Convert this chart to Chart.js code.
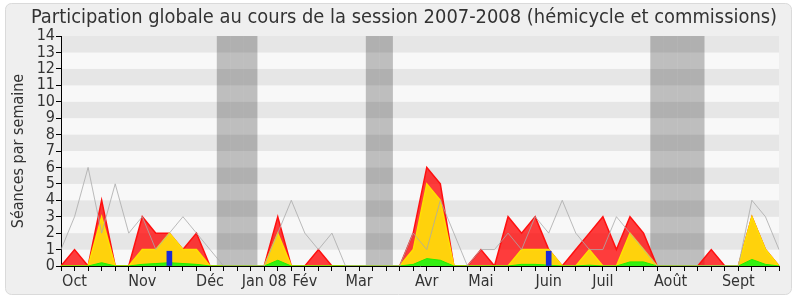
<!DOCTYPE html>
<html>
<head>
<meta charset="utf-8">
<title>Participation globale 2007-2008</title>
<script src="https://cdn.jsdelivr.net/npm/chart.js"></script>
<style>
  body { margin: 0; background: #ffffff; }
  canvas { display: block; }
</style>
</head>
<body>
<canvas id="participationChart" width="800" height="300"></canvas>
<script>
    // one entry per week, Oct 2007 -> Sept 2008
    const weeks = ['', 'Oct', '', '', '', '', 'Nov', '', '', '', '', 'Déc', '', '', '', 'Jan 08', '', '', 'Fév', '', '', '', 'Mar', '', '', '', '', 'Avr', '', '', '', 'Mai', '', '', '', '', 'Juin', '', '', '', 'Juil', '', '', '', '', 'Août', '', '', '', '', 'Sept', '', '', ''];

    // presences (red), participations (yellow), interventions (green)
    const presences = [0, 1, 0, 4, 0, 0, 3, 2, 2, 1, 2, 0, 0, 0, 0, 0, 3, 0, 0, 1, 0, 0, 0, 0, 0, 0, 2, 6, 5, 0, 0, 1, 0, 3, 2, 3, 1, 0, 1, 2, 3, 1, 3, 2, 0, 0, 0, 0, 1, 0, 0, 3, 1, 0];
    const participations = [0, 0, 0, 3, 0, 0, 1, 1, 2, 1, 1, 0, 0, 0, 0, 0, 2, 0, 0, 0, 0, 0, 0, 0, 0, 0, 1, 5, 4, 0, 0, 0, 0, 0, 1, 1, 1, 0, 0, 1, 0, 0, 2, 1, 0, 0, 0, 0, 0, 0, 0, 3, 1, 0];
    const interventions = [0, 0, 0, 0.2, 0, 0, 0.1, 0.15, 0.2, 0.15, 0.1, 0, 0, 0, 0, 0, 0.35, 0, 0, 0, 0, 0, 0, 0, 0, 0, 0.1, 0.45, 0.35, 0, 0, 0, 0, 0, 0.1, 0.1, 0.05, 0, 0, 0.05, 0, 0, 0.25, 0.25, 0, 0, 0, 0, 0, 0, 0, 0.4, 0.1, 0];
    // questions orales (blue bars)
    const questions = [null, null, null, null, null, null, null, null, 0.9, null, null, null, null, null, null, null, null, null, null, null, null, null, null, null, null, null, null, null, null, null, null, null, null, null, null, null, 0.9, null, null, null, null, null, null, null, null, null, null, null, null, null, null, null, null, null];
    // grey line: median of all deputies
    const mediane = [1, 3, 6, 2, 5, 2, 3, 1, 2, 3, 2, 1, 0, 0, 0, 0, 2, 4, 2, 1, 2, 0, 0, 0, 0, 0, 2, 1, 4, 2, 0, 1, 1, 2, 1, 3, 2, 4, 2, 1, 1, 3, 2, 1, 0, 0, 0, 0, 0, 0, 0, 4, 3, 1];
    // parliament holidays (grey columns)
    const vacances = [null, null, null, null, null, null, null, null, null, null, null, null, 14, 14, 14, null, null, null, null, null, null, null, null, 14, 14, null, null, null, null, null, null, null, null, null, null, null, null, null, null, null, null, null, null, null, 14, 14, 14, 14, null, null, null, null, null, null];

    const yTicks = [0, 1, 2, 3, 4, 5, 6, 7, 8, 9, 10, 11, 12, 13, 14];
    const chartTitle = 'Participation globale au cours de la session 2007-2008 (hémicycle et commissions)';

    const fontName = "'DejaVu Sans Condensed', 'DejaVu Sans', sans-serif";

    // panel + striped plot background, and the title on top
    const backgroundPlugin = {
        id: 'background',
        beforeDraw(chart) {
            const ctx = chart.ctx;
            ctx.save();
            ctx.fillStyle = '#ffffff';
            ctx.fillRect(0, 0, chart.width, chart.height);
            ctx.beginPath();
            ctx.roundRect(5.5, 3.5, 786, 291, 6);
            ctx.fillStyle = '#efefef';
            ctx.fill();
            ctx.strokeStyle = '#dadada';
            ctx.lineWidth = 1;
            ctx.stroke();

            const area = chart.chartArea;
            const y = chart.scales.y;
            for (let v = 0; v < yTicks.length - 1; v++) {
                const top = y.getPixelForValue(yTicks[v + 1]);
                const bottom = y.getPixelForValue(yTicks[v]);
                ctx.fillStyle = v % 2 ? '#e6e6e6' : '#f8f8f8';
                ctx.fillRect(area.left, top, area.right - area.left, bottom - top);
            }
            ctx.restore();
        },
        afterDraw(chart) {
            const ctx = chart.ctx;
            ctx.save();
            ctx.font = '19.9px ' + fontName;
            ctx.fillStyle = '#333333';
            ctx.textAlign = 'center';
            ctx.textBaseline = 'middle';
            ctx.fillText(chartTitle, 404, 18);
            ctx.restore();
        }
    };

    const canvas = document.getElementById('participationChart');

    let participationChart = new Chart(canvas, {
        type: 'line',
        data: {
            labels: weeks,
            datasets: [
                {
                    type: 'bar',
                    data: vacances,
                    backgroundColor: 'rgba(0, 0, 0, 0.23)',
                    borderWidth: 0,
                    inflateAmount: 0,
                    barPercentage: 1,
                    categoryPercentage: 1,
                    grouped: false,
                    order: 10
                },
                {
                    data: presences,
                    borderColor: '#ff1010',
                    backgroundColor: 'rgba(255, 0, 0, 0.76)',
                    borderWidth: 1.5,
                    fill: 'origin',
                    pointRadius: 0,
                    order: 5
                },
                {
                    data: participations,
                    borderColor: '#ffe000',
                    backgroundColor: '#ffd20c',
                    borderWidth: 1.5,
                    fill: 'origin',
                    pointRadius: 0,
                    order: 4
                },
                {
                    data: interventions,
                    borderColor: '#22ee00',
                    backgroundColor: '#33f012',
                    borderWidth: 1,
                    fill: 'origin',
                    pointRadius: 0,
                    order: 3
                },
                {
                    type: 'bar',
                    data: questions,
                    backgroundColor: '#1a2ad8',
                    borderWidth: 0,
                    barThickness: 5,
                    grouped: false,
                    order: 2
                },
                {
                    data: mediane,
                    borderColor: 'rgba(170, 170, 170, 0.8)',
                    borderWidth: 1,
                    fill: false,
                    pointRadius: 0,
                    order: 1
                }
            ]
        },
        options: {
            responsive: false,
            devicePixelRatio: 1,
            animation: false,
            layout: {
                padding: { left: 5, right: 21, top: 36, bottom: 0 }
            },
            plugins: {
                legend: { display: false },
                tooltip: { enabled: false },
                title: { display: false }
            },
            scales: {
                x: {
                    offset: false,
                    grid: {
                        offset: false,
                        drawOnChartArea: false,
                        drawTicks: true,
                        tickLength: 5,
                        color: '#000000'
                    },
                    border: { display: true, color: '#000000' },
                    ticks: {
                        autoSkip: false,
                        maxRotation: 0,
                        padding: 1,
                        color: '#333333',
                        font: { family: fontName, size: 16 }
                    },
                    afterFit: function(scale) { scale.height = 34; }
                },
                y: {
                    min: 0,
                    max: 14,
                    grid: {
                        drawOnChartArea: false,
                        drawTicks: true,
                        tickLength: 5,
                        color: '#000000'
                    },
                    border: { display: true, color: '#000000' },
                    ticks: {
                        stepSize: 1,
                        autoSkip: false,
                        padding: 1,
                        color: '#333333',
                        font: { family: fontName, size: 16 }
                    },
                    title: {
                        display: true,
                        text: 'Séances par semaine',
                        color: '#333333',
                        font: { family: fontName, size: 16 },
                        padding: 4
                    },
                    afterFit: function(scale) { scale.width = 56; }
                }
            }
        },
        plugins: [backgroundPlugin]
    });
</script>
</body>
</html>
